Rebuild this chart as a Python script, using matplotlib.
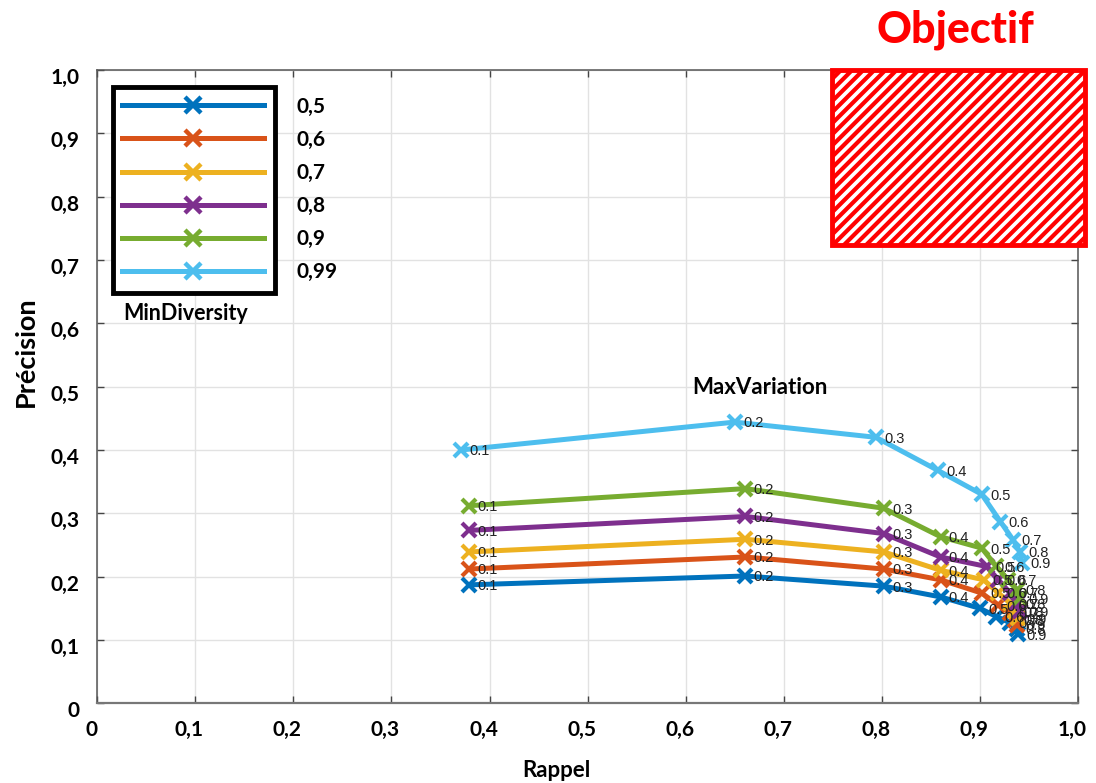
import numpy as np
import matplotlib
matplotlib.use("Agg")
import matplotlib.pyplot as plt
from matplotlib.lines import Line2D
from matplotlib.patches import Rectangle
from matplotlib.transforms import ScaledTranslation

# MaxVariation values (point labels) and MinDiversity series
max_variation = ["0.1", "0.2", "0.3", "0.4", "0.5", "0.6", "0.7", "0.8", "0.9"]
min_diversity = ["0,5", "0,6", "0,7", "0,8", "0,9", "0,99"]

rappel_05 = [0.379, 0.661, 0.802, 0.860, 0.900, 0.917, 0.931, 0.938, 0.939]
precision_05 = [0.187, 0.201, 0.185, 0.168, 0.150, 0.137, 0.127, 0.118, 0.109]

rappel_06 = [0.379, 0.661, 0.802, 0.860, 0.902, 0.919, 0.931, 0.936, 0.938]
precision_06 = [0.212, 0.231, 0.212, 0.195, 0.174, 0.155, 0.143, 0.132, 0.124]

rappel_07 = [0.379, 0.661, 0.802, 0.860, 0.904, 0.919, 0.931, 0.936, 0.939]
precision_07 = [0.239, 0.259, 0.239, 0.210, 0.195, 0.174, 0.158, 0.145, 0.134]

rappel_08 = [0.379, 0.661, 0.802, 0.860, 0.907, 0.919, 0.931, 0.938, 0.941]
precision_08 = [0.273, 0.295, 0.268, 0.231, 0.216, 0.195, 0.174, 0.158, 0.145]

rappel_09 = [0.379, 0.661, 0.802, 0.860, 0.902, 0.917, 0.929, 0.938, 0.941]
precision_09 = [0.312, 0.339, 0.308, 0.263, 0.245, 0.216, 0.195, 0.179, 0.166]

rappel_099 = [0.371, 0.650, 0.794, 0.857, 0.902, 0.921, 0.934, 0.941, 0.943]
precision_099 = [0.400, 0.444, 0.420, 0.368, 0.330, 0.287, 0.258, 0.239, 0.222]

all_rappel = [rappel_05, rappel_06, rappel_07, rappel_08, rappel_09, rappel_099]
all_precision = [precision_05, precision_06, precision_07, precision_08, precision_09, precision_099]
colors = ["#0072BD", "#D95319", "#EDB120", "#7E2F8E", "#77AC30", "#4DBEEE"]

# target zone (Rappel, Precision)
obj_x = [0.749, 1.007]
obj_y = [0.724, 1.0]

ticks = np.arange(0, 1.01, 0.1)
tick_labels = ["0", "0,1", "0,2", "0,3", "0,4", "0,5", "0,6", "0,7", "0,8", "0,9", "1,0"]

lab_font = "Lato"
plt.rcParams["hatch.linewidth"] = 3.0

fig = plt.figure(figsize=(10.96, 7.83), dpi=100)
ax = fig.add_axes([0.0888, 0.1018, 0.8946, 0.8088])

for i in range(len(colors)):
    ax.plot(all_rappel[i], all_precision[i], color=colors[i], lw=3.6,
            marker="x", markersize=10, markeredgewidth=3, zorder=3)
    for j in range(len(max_variation)):
        ax.annotate(max_variation[j], (all_rappel[i][j], all_precision[i][j]),
                    xytext=(6, -1), textcoords="offset points", ha="left", va="center",
                    fontsize=10.5, color="#222222", family="Liberation Sans", zorder=4)

ax.set_xlim(0, 1)
ax.set_ylim(0, 1)
ax.set_xticks(ticks)
ax.set_yticks(ticks)
ax.set_xticklabels(tick_labels, fontsize=15, fontweight="bold", family=lab_font)
ax.set_yticklabels(tick_labels, fontsize=15, fontweight="bold", family=lab_font)
ax.tick_params(direction="in", top=True, right=True, length=5, width=1, color="#444444")
ax.tick_params(axis="x", pad=12)
ax.tick_params(axis="y", pad=13)
for lbl in ax.get_yticklabels():
    lbl.set_transform(lbl.get_transform() + ScaledTranslation(0, -0.06, fig.dpi_scale_trans))
for lbl in ax.get_xticklabels():
    lbl.set_transform(lbl.get_transform() + ScaledTranslation(-0.06, 0, fig.dpi_scale_trans))
ax.grid(True, color="#e2e2e2", lw=1)
ax.set_axisbelow(True)
for s in ax.spines.values():
    s.set_color("#555555")
    s.set_linewidth(1.1)
ax.spines["bottom"].set_linewidth(1.6)
ax.spines["bottom"].set_color("#777777")

ax.set_xlabel("Rappel", fontsize=16, fontweight="bold", family=lab_font)
ax.xaxis.set_label_coords(0.468, -0.089)
ax.set_ylabel("Précision", fontsize=19.5, fontweight="bold", family=lab_font)
ax.yaxis.set_label_coords(-0.061, 0.555)

# Objectif zone
ax.add_patch(Rectangle((obj_x[0], obj_y[0]), obj_x[1] - obj_x[0], obj_y[1] - obj_y[0],
                       facecolor="white", edgecolor="#ff0000", hatch="///", lw=3.5,
                       clip_on=False, zorder=5))
ax.text(0.875, 1.063, "Objectif", transform=ax.transAxes, ha="center", va="center",
        fontsize=31, fontweight="black", family=lab_font, color="#ff0000", clip_on=False)

ax.text(0.676, 0.498, "MaxVariation", ha="center", va="center",
        fontsize=16, fontweight="bold", family=lab_font)

# legend: box around the handles only, labels outside
handles = [Line2D([], [], color=c, lw=3.6, marker="x", markersize=11, markeredgewidth=3.2)
           for c in colors]
ax.add_patch(Rectangle((0.016, 0.648), 0.165, 0.325, transform=ax.transAxes,
                       facecolor="white", edgecolor="black", lw=3.5, zorder=6))
leg = ax.legend(handles, min_diversity, loc="upper left", bbox_to_anchor=(0.025, 0.958),
                frameon=False, borderpad=0, borderaxespad=0, handlelength=6.8,
                handletextpad=1.6, labelspacing=0.63,
                prop={"family": lab_font, "weight": "bold", "size": 15})
leg.set_zorder(7)
ax.text(0.09, 0.616, "MinDiversity", transform=ax.transAxes, ha="center", va="center",
        fontsize=15.5, fontweight="bold", family=lab_font)

fig.savefig("out.png", dpi=100)
